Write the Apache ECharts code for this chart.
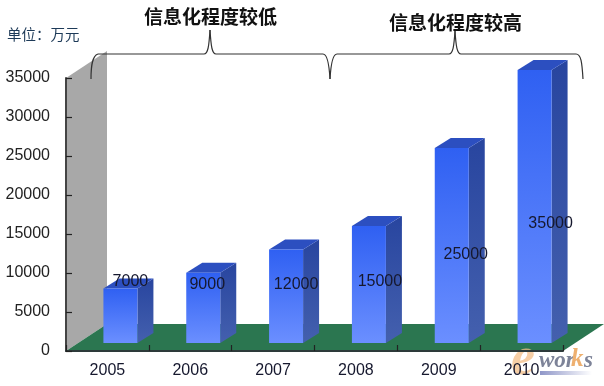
<!DOCTYPE html>
<html><head><meta charset="utf-8">
<style>html,body{margin:0;padding:0;background:#fff}#c{width:604px;height:386px}</style>
<script src="https://cdn.jsdelivr.net/npm/echarts@6/dist/echarts.min.js"></script>
</head><body><div id="c"></div>
<script>
const years = ['2005','2006','2007','2008','2009','2010'];
const values = [7000,9000,12000,15000,25000,35000];
const yMax = 35000, yStep = 5000;
const groupLow = '信息化程度较低';
const groupHigh = '信息化程度较高';
const unitText = '单位：万元';
// label nudges relative to the front-top corner of each bar (the source labels are hand placed)
const labelNudgeX = [10,4,10,11,14,16];
const labelY = [8850,8500,8500,8850,12300,16300];

const chart = echarts.init(document.getElementById('c'), null, {renderer:'canvas'});
const BAR_W=34, DX=16, DY=10, SHIFT_X=13, LIFT=8, FLOOR_DX=41, FLOOR_DY=27;
const lin=(a,b)=>new echarts.graphic.LinearGradient(0,0,0,1,[{offset:0,color:a},{offset:1,color:b}]);

function renderRoom(params, api){
  const a=api.coord([0,0]), t=api.coord([0,yMax]), band=api.size([1,0])[0];
  const L=a[0]-band/2, R=L+band*years.length, B=a[1], T=t[1];
  return {type:'group',children:[
    {type:'polygon',shape:{points:[[L,T],[L+FLOOR_DX,T-FLOOR_DY],[L+FLOOR_DX,B-FLOOR_DY],[L,B]]},style:{fill:'#a8a8a8'}},
    {type:'polygon',shape:{points:[[L,B],[L+FLOOR_DX,B-FLOOR_DY],[R+FLOOR_DX,B-FLOOR_DY],[R,B]]},style:{fill:'#2b7650'}}
  ]};
}
function renderBar(params, api){
  const p=api.coord([api.value(0),api.value(1)]), o=api.coord([api.value(0),0]);
  const cx=p[0]+SHIFT_X, x0=cx-BAR_W/2, x1=cx+BAR_W/2, yt=p[1]-LIFT, yb=o[1]-LIFT;
  return {type:'group',children:[
    {type:'polygon',shape:{points:[[x1,yt],[x1+DX,yt-DY],[x1+DX,yb-DY],[x1,yb]]},style:{fill:lin('#28459f','#4460ae')}},
    {type:'polygon',shape:{points:[[x0,yt],[x0+DX,yt-DY],[x1+DX,yt-DY],[x1,yt]]},style:{fill:'#2c4fc0'}},
    {type:'rect',shape:{x:x0,y:yt,width:BAR_W,height:yb-yt},style:{fill:lin('#2f60f2','#6b8fff')}}
  ]};
}
function renderLabel(params, api){
  const i=params.dataIndex, p=api.coord([i,labelY[i]]);
  return {type:'text',style:{x:p[0]+SHIFT_X+labelNudgeX[i],y:p[1],text:String(values[i]),align:'center',verticalAlign:'middle',
    font:'16px "Liberation Sans"',fill:'#16182e'}};
}
const braceStroke={stroke:'#333',lineWidth:1.2,fill:null};
const curve=(x1,y1,cx1,cy1,cx2,cy2,x2,y2)=>({type:'bezierCurve',z:10,shape:{x1,y1,cpx1:cx1,cpy1:cy1,cpx2:cx2,cpy2:cy2,x2,y2},style:braceStroke});
const seg=(x1,y1,x2,y2)=>({type:'line',z:10,shape:{x1,y1,x2,y2},style:braceStroke});
const braces=[
  curve(91,79,91,66,92,56,98,54), seg(98,54,204,54),
  curve(204,54,208,54,209,46,210,30), curve(210,30,211,46,212,54,216,54), seg(216,54,323,54),
  curve(323,54,327,54,329,62,330,79), curve(330,79,331,62,333,54,337,54), seg(337,54,449,54),
  curve(449,54,453,54,454,46,455,31), curve(455,31,456,46,457,54,461,54), seg(461,54,576,54),
  curve(576,54,581,54,582,62,583,79)
];
chart.setOption({
  animation:false,
  grid:{left:66,top:78,width:497,height:273,containLabel:false},
  xAxis:{type:'category',data:years,z:5,
    axisLine:{lineStyle:{color:'#2d3a3a',width:2}},
    axisTick:{show:true,inside:true,length:6,lineStyle:{color:'#222',width:1.2}},
    axisLabel:{margin:12,color:'#16182e',fontSize:16,fontFamily:'Liberation Sans'}},
  yAxis:{type:'value',min:0,max:yMax,interval:yStep,z:5,splitLine:{show:false},
    axisLine:{show:true,lineStyle:{color:'#444',width:2}},
    axisTick:{show:true,inside:true,length:6,lineStyle:{color:'#222',width:1.2}},
    axisLabel:{margin:16,color:'#222',fontSize:16,fontFamily:'Liberation Sans',formatter:v=>String(v)}},
  series:[
    {type:'custom',z:1,renderItem:renderRoom,data:[[0,0]],encode:{x:0,y:1},silent:true,clip:false},
    {type:'custom',z:2,renderItem:renderBar,data:years.map((y,i)=>[i,values[i]]),encode:{x:0,y:1},clip:false},
    {type:'custom',z:8,renderItem:renderLabel,data:years.map((y,i)=>[i,labelY[i]]),encode:{x:0,y:1},clip:false}
  ],
  graphic:[
    ...braces,
    {type:'text',z:10,x:144,y:17,style:{text:groupLow,font:'bold 19px "Noto Sans CJK SC"',fill:'#111',verticalAlign:'middle'}},
    {type:'text',z:10,x:389,y:23,style:{text:groupHigh,font:'bold 19px "Noto Sans CJK SC"',fill:'#111',verticalAlign:'middle'}},
    {type:'text',z:10,x:7,y:34,style:{text:unitText,font:'14.5px "Noto Sans CJK SC"',fill:'#1d3a58',verticalAlign:'middle'}},
    {type:'text',z:3,x:511,y:360,style:{text:'e',font:'italic bold 54px "Liberation Serif"',fill:'rgba(243,190,135,0.75)',verticalAlign:'middle'}},
    {type:'text',z:6,x:539,y:361,style:{text:'wor',font:'italic bold 23px "Liberation Serif"',fill:'#7d8398',verticalAlign:'middle'}},
    {type:'text',z:6,x:571,y:360,style:{text:'k',font:'italic bold 25px "Liberation Serif"',fill:'#eeb070',verticalAlign:'middle'}},
    {type:'text',z:6,x:584,y:361,style:{text:'s',font:'italic bold 23px "Liberation Serif"',fill:'#7d8398',verticalAlign:'middle'}},
    {type:'rect',z:4,shape:{x:540,y:371,width:52,height:4},style:{fill:new echarts.graphic.LinearGradient(0,0,1,0,[{offset:0,color:'#8f96c8'},{offset:1,color:'#ffffff'}])}}
  ]
});
</script></body></html>
